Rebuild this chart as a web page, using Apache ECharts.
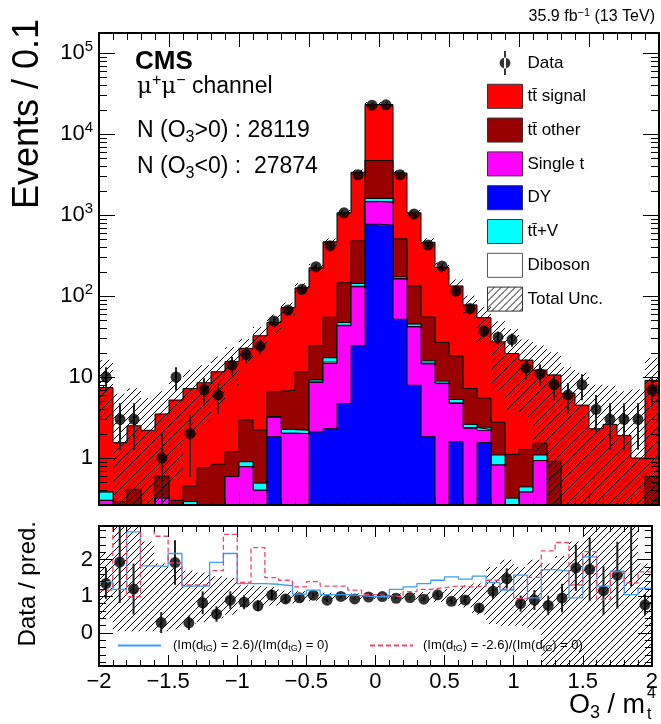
<!DOCTYPE html>
<html>
<head>
<meta charset="utf-8">
<title>O3 / mt4, mumu channel</title>
<script src="https://cdn.jsdelivr.net/npm/echarts@6/dist/echarts.min.js"></script>
<style>
html, body { margin: 0; padding: 0; background: #fff; }
#chart { width: 661px; height: 724px; }
</style>
</head>
<body>
<div id="chart"></div>
<script>
var chart = echarts.init(document.getElementById('chart'));

var FONT = '"Liberation Sans", Arial, Helvetica, sans-serif';
var SIGNAL = 'tt\u0304 signal', OTHER = 'tt\u0304 other', TTV = 'tt\u0304+V';

// bin edges, 0.1 wide
var binEdges = [-2.0, -1.9, -1.8, -1.7, -1.6, -1.5, -1.4, -1.3, -1.2, -1.1,
  -1.0, -0.9, -0.8, -0.7, -0.6, -0.5, -0.4, -0.3, -0.2, -0.1,
  0.0, 0.1, 0.2, 0.3, 0.4, 0.5, 0.6, 0.7, 0.8, 0.9,
  1.0, 1.1, 1.2, 1.3, 1.4, 1.5, 1.6, 1.7, 1.8, 1.9, 2.0];

var dataCounts = [10, 3, 3, 0, 1, 10, 2, 7, 6, 14,
  19, 24, 49, 67, 121, 230, 418, 1064, 3130, 22696,
  22952, 3130, 1030, 425, 234, 115, 70, 37, 31, 29,
  13, 11, 8, 6, 8, 4, 3, 3, 3, 7];

// stack, bottom to top
var dyEvents = [0, 0, 0, 0, 0, 0, 0, 0, 0, 0,
  0, 0, 1.83, 0, 0, 2.1, 2.3, 4.7, 24.3, 770,
  750, 51.6, 7.9, 1.83, 0, 1.59, 0, 1.55, 0, 0,
  0, 0, 0, 0, 0, 0, 0, 0, 0, 0];
var singleTop = [0.30, 0, 0, 0, 0.32, 0, 0, 0, 0, 0.59,
  0.78, 0.40, 1.35, 2.02, 2.0, 6.5, 12.4, 38.3, 105.7, 690,
  690, 110.4, 33.7, 12.7, 8.3, 3.11, 2.33, 0.65, 0.82, 0,
  0.38, 0.93, 0, 0, 0, 0, 0, 0, 0, 0];
var diboson = [0, 0, 0, 0, 0, 0, 0, 0, 0, 0,
  0, 0, 0, 0, 0, 0.1, 0.6, 0.5, 2, 10,
  10, 2, 0.5, 0.3, 0.1, 0.1, 0.05, 0.05, 0, 0,
  0, 0, 0, 0, 0, 0, 0, 0, 0, 0];
var ttV = [0.08, 0, 0, 0, 0, 0, 0.29, 0, 0, 0,
  0.12, 0.09, 0.07, 0.24, 0.2, 0.5, 2.0, 3.5, 11, 130,
  150, 8, 2.9, 1.0, 0.5, 0.5, 0.22, 0.15, 0.27, 0.32,
  0.06, 0.16, 0, 0, 0, 0, 0, 0, 0, 0];
var ttOther = [0, 0.29, 0.41, 0, 0.28, 0.30, 0.16, 0.76, 0.84, 0.61,
  2.05, 1.72, 3.35, 4.64, 9.4, 15.1, 37.3, 99, 336, 3100,
  3100, 336, 88, 39.2, 17.9, 12.9, 4.6, 3.1, 1.67, 0.79,
  0.84, 0.43, 0.91, 0, 0, 0, 0, 0, 0, 0.59];
var ttSignal = [7.02, 1.26, 2.09, 2.2, 2.9, 4.9, 6.75, 7.74, 10.76, 14.4,
  19.65, 30.1, 40.7, 65.1, 114.4, 198.7, 412, 920, 2891, 18400,
  18400, 2792, 933, 405, 198, 115, 70.5, 48.5, 24.4, 18.4,
  14.9, 10.7, 9.7, 6.3, 4.5, 2.3, 2.6, 1.9, 1.0, 8.5];

// relative total uncertainty (up / down)
var uncUp = [1.2, 3.0, 1.9, 1.5, 0.9, 0.8, 0.7, 0.65, 0.55, 0.5,
  0.3, 0.28, 0.25, 0.15, 0.14, 0.12, 0.1, 0.09, 0.08, 0.07,
  0.07, 0.08, 0.09, 0.12, 0.15, 0.2, 0.3, 0.35, 0.8, 1.0,
  0.8, 1.0, 0.9, 1.1, 1.5, 2.5, 2.0, 2.5, 6.0, 0.9];
var uncDown = [0.6, 0.95, 0.95, 0.95, 0.95, 0.9, 0.75, 0.7, 0.6, 0.5,
  0.3, 0.28, 0.25, 0.2, 0.18, 0.12, 0.1, 0.09, 0.08, 0.07,
  0.07, 0.08, 0.09, 0.12, 0.15, 0.2, 0.3, 0.5, 0.75, 0.8,
  0.8, 0.9, 1.9, 1.9, 1.9, 1.9, 1.9, 1.9, 1.9, 1.9];

// (Im(dtG) = +-2.6) / (Im(dtG) = 0)
var ratioPlus = [1.40, 1.19, 2.76, 1.83, 1.82, 2.17, 1.28, 1.28, 1.93, 2.17,
  1.35, 1.35, 1.33, 1.29, 1.06, 1.17, 1.05, 1.05, 1.02, 0.99,
  0.99, 1.19, 1.26, 1.35, 1.44, 1.53, 1.47, 1.55, 1.38, 1.17,
  1.58, 0.96, 1.73, 1.69, 0.96, 2.08, 1.28, 1.69, 1.05, 1.22];
var ratioMinus = [1.17, 3.3, 0.99, 3.3, 2.64, 1.91, 1.31, 1.31, 1.70, 2.69,
  1.38, 2.33, 1.51, 1.44, 1.26, 1.40, 1.28, 1.28, 1.17, 1.05,
  1.02, 0.99, 1.13, 1.19, 1.24, 1.28, 1.26, 1.28, 1.44, 1.19,
  0.94, 1.52, 2.24, 2.47, 1.31, 2.22, 0.92, 1.67, 1.37, 1.67];

var Y_MIN = 0.263, Y_MAX = 176600;
var R_MIN = -0.9, R_MAX = 2.92;

// cumulative stack tops
var layers = [dyEvents, singleTop, diboson, ttV, ttOther, ttSignal];
var cum = [];
var run = dataCounts.map(function () { return 0; });
layers.forEach(function (arr) {
  run = run.map(function (v, i) { return v + arr[i]; });
  cum.push(run.slice());
});
var total = cum[5];

// diagonal hatch
function makeHatch() {
  var c = document.createElement('canvas');
  c.width = 7; c.height = 7;
  var ctx = c.getContext('2d');
  ctx.strokeStyle = '#000';
  ctx.lineWidth = 1;
  ctx.beginPath();
  ctx.moveTo(0, 7); ctx.lineTo(7, 0);
  ctx.moveTo(-1, 1); ctx.lineTo(1, -1);
  ctx.moveTo(6, 8); ctx.lineTo(8, 6);
  ctx.stroke();
  return c;
}
var hatchFill = { image: makeHatch(), repeat: 'repeat' };

function fillSeries(name, color, tops, z) {
  return {
    type: 'custom', name: name, xAxisIndex: 0, yAxisIndex: 0, z: z, clip: true, silent: true,
    itemStyle: { color: color },
    data: tops.map(function (v, i) { return [binEdges[i], binEdges[i + 1], v]; }),
    renderItem: function (params, api) {
      var top = api.value(2);
      if (!(top > Y_MIN)) return null;
      var cs = params.coordSys;
      var a = api.coord([api.value(0), top]);
      var b = api.coord([api.value(1), top]);
      var y = Math.max(a[1], cs.y);
      return { type: 'rect', shape: { x: a[0], y: y, width: b[0] - a[0], height: cs.y + cs.height - y }, style: { fill: color } };
    }
  };
}

function stepLine(name, vals, xi, yi, z, style) {
  var pts = vals.map(function (v, i) { return [binEdges[i], v > 0 ? v : 1e-3]; });
  pts.push([binEdges[40], pts[39][1]]);
  return {
    type: 'line', name: name, step: 'end', data: pts, xAxisIndex: xi, yAxisIndex: yi, z: z,
    symbol: 'none', silent: true, clip: true, lineStyle: style, itemStyle: { color: style.color }
  };
}

function bandSeries(name, lows, highs, xi, yi, floor) {
  return {
    type: 'custom', name: name, xAxisIndex: xi, yAxisIndex: yi, z: 20, clip: true, silent: true,
    itemStyle: { color: hatchFill },
    data: lows.map(function (v, i) { return [binEdges[i], binEdges[i + 1], v, highs[i]]; }),
    renderItem: function (params, api) {
      var lo = Math.max(api.value(2), floor);
      var a = api.coord([api.value(0), api.value(3)]);
      var b = api.coord([api.value(1), lo]);
      return { type: 'rect', shape: { x: a[0], y: a[1], width: b[0] - a[0], height: b[1] - a[1] }, style: { fill: hatchFill } };
    }
  };
}

function errorSeries(vals, errs, xi, yi, floor) {
  var d = [];
  vals.forEach(function (v, i) {
    if (v > 0) d.push([(binEdges[i] + binEdges[i + 1]) / 2, v - errs[i], v + errs[i]]);
  });
  return {
    type: 'custom', xAxisIndex: xi, yAxisIndex: yi, z: 21, clip: true, silent: true,
    data: d,
    renderItem: function (params, api) {
      var lo = Math.max(api.value(1), floor);
      var a = api.coord([api.value(0), api.value(2)]);
      var b = api.coord([api.value(0), lo]);
      return { type: 'line', shape: { x1: a[0], y1: a[1], x2: b[0], y2: b[1] }, style: { stroke: '#222', lineWidth: 2 } };
    }
  };
}

function pointSeries(name, vals, xi, yi) {
  var d = [];
  vals.forEach(function (v, i) {
    if (v > 0) d.push([(binEdges[i] + binEdges[i + 1]) / 2, v]);
  });
  return {
    type: 'scatter', name: name, xAxisIndex: xi, yAxisIndex: yi, z: 22, clip: true, silent: true,
    symbol: 'circle', symbolSize: 11, itemStyle: { color: '#000' }, data: d
  };
}

var ratioVals = dataCounts.map(function (n, i) { return n / total[i]; });
var ratioErrs = dataCounts.map(function (n, i) { return Math.sqrt(n) / total[i]; });
var dataErrs = dataCounts.map(function (n) { return Math.sqrt(n); });

var logMinorTicks = [];
[0.1, 1, 10, 100, 1000, 10000, 100000].forEach(function (dec) {
  for (var m = 2; m <= 9; m++) {
    if (m * dec > Y_MIN && m * dec < Y_MAX) logMinorTicks.push(m * dec);
  }
});
var ratioMinor = [-0.8, -0.6, -0.4, -0.2, 0.2, 0.4, 0.6, 0.8, 1.2, 1.4, 1.6, 1.8, 2.2, 2.4, 2.6, 2.8];

var series = [];
var stackNames = [SIGNAL, OTHER, TTV, 'Diboson', 'Single t', 'DY'];
var stackColors = ['#ff0000', '#990000', '#00ffff', '#ffffff', '#ff00ff', '#0000ff'];
var stackTops = [cum[5], cum[4], cum[3], cum[2], cum[1], cum[0]];
stackNames.forEach(function (nm, k) {
  series.push(fillSeries(nm, stackColors[k], stackTops[k], 2 + 2 * k));
  series.push(stepLine('outline' + k, stackTops[k], 0, 0, 3 + 2 * k, { color: '#000', width: 1 }));
});
series.push(bandSeries('Total Unc.',
  total.map(function (t, i) { return t * (1 - uncDown[i]); }),
  total.map(function (t, i) { return t * (1 + uncUp[i]); }), 0, 0, Y_MIN));
series.push(errorSeries(dataCounts, dataErrs, 0, 0, Y_MIN));
series.push(pointSeries('Data', dataCounts, 0, 0));

// log minor ticks on both sides
series.push({
  type: 'custom', xAxisIndex: 0, yAxisIndex: 0, z: 40, silent: true,
  data: logMinorTicks.map(function (v) { return [-2, v]; }),
  renderItem: function (params, api) {
    var cs = params.coordSys;
    var y = Math.round(api.coord([-2, api.value(1)])[1]) + 0.5;
    return { type: 'group', children: [
      { type: 'line', shape: { x1: cs.x, y1: y, x2: cs.x + 8, y2: y }, style: { stroke: '#000', lineWidth: 1 } },
      { type: 'line', shape: { x1: cs.x + cs.width - 8, y1: y, x2: cs.x + cs.width, y2: y }, style: { stroke: '#000', lineWidth: 1 } }
    ] };
  }
});

// ratio panel
series.push(bandSeries('ratioUnc',
  uncDown.map(function (u) { return 1 - u; }),
  uncUp.map(function (u) { return 1 + u; }), 2, 2, -5));
series.push(stepLine('Im(dtG) = 2.6', ratioPlus, 2, 2, 23, { color: '#3d9df2', width: 1.3 }));
series.push(stepLine('Im(dtG) = -2.6', ratioMinus, 2, 2, 23, { color: '#f0446a', width: 1.3, type: [5, 3] }));
series.push(errorSeries(ratioVals, ratioErrs, 2, 2, -5));
series.push(pointSeries('ratio', ratioVals, 2, 2));

function fmtX(v) { return (v < 0 ? '\u2212' : '') + Math.abs(v); }

function xAxisDef(grid, pos, labels, major, minor) {
  return {
    type: 'value', gridIndex: grid, position: pos, min: -2, max: 2, interval: 0.5, z: 30,
    axisLine: { show: true, onZero: false, lineStyle: { color: '#000', width: 2 } },
    axisTick: { show: true, inside: true, length: major, lineStyle: { color: '#000', width: 1 } },
    minorTick: { show: true, splitNumber: 5, length: minor, lineStyle: { color: '#000', width: 1 } },
    splitLine: { show: false },
    axisLabel: { show: labels, margin: 5, fontSize: 22, fontFamily: FONT, color: '#000', formatter: fmtX }
  };
}

function logAxisDef(pos, labels) {
  return {
    type: 'log', logBase: 10, gridIndex: 0, position: pos, min: Y_MIN, max: Y_MAX, z: 30,
    axisLine: { show: true, onZero: false, lineStyle: { color: '#000', width: 2 } },
    axisTick: { show: true, inside: true, length: 16, lineStyle: { color: '#000', width: 1 } },
    splitLine: { show: false },
    axisLabel: {
      show: labels, showMinLabel: false, showMaxLabel: false, margin: 6, fontSize: 22, fontFamily: FONT, color: '#000',
      formatter: function (v) {
        if (v < 0.5 || v > 2e5) return '';
        if (v >= 100) return '10{sup|' + Math.round(Math.log10(v)) + '}';
        return String(Math.round(v));
      },
      rich: { sup: { fontSize: 15, fontFamily: FONT, padding: [0, 0, 12, 0] } }
    }
  };
}

function ratioAxisDef(pos, ticks, len, labels) {
  return {
    type: 'value', gridIndex: 1, position: pos, min: R_MIN, max: R_MAX, z: 30,
    axisLine: { show: true, onZero: false, lineStyle: { color: '#000', width: 2 } },
    axisTick: { show: true, inside: true, length: len, customValues: ticks, lineStyle: { color: '#000', width: 1 } },
    splitLine: { show: false },
    axisLabel: { show: labels, customValues: ticks, margin: 6, fontSize: 22, fontFamily: FONT, color: '#000' }
  };
}

var subRich = function (base, sub, drop) {
  return {
    sub: { fontSize: sub, fontFamily: FONT, padding: [drop, 0, 0, 0] },
    sup: { fontSize: sub, fontFamily: FONT, padding: [0, 0, drop, 0] },
    mu: { fontSize: base, fontFamily: '"DejaVu Serif", "Liberation Serif", serif' }
  };
};

function textEl(x, y, text, size, align, extra) {
  var st = {
    text: text, fontSize: size, fontFamily: FONT, fill: '#000',
    textAlign: align, textVerticalAlign: 'middle', rich: subRich(size, Math.round(size * 0.68), Math.round(size * 0.55))
  };
  if (extra) Object.keys(extra).forEach(function (k) { st[k] = extra[k]; });
  return { type: 'text', x: x, y: y, z: 50, style: st };
}

var ratioLegendRich = {
  s: { fontSize: 9, fontFamily: FONT, padding: [7, 0, 0, 0] }
};

var option = {
  animation: false,
  backgroundColor: '#fff',
  grid: [
    { left: 99, right: 2, top: 33, height: 472 },
    { left: 99, right: 2, top: 526, height: 140 }
  ],
  xAxis: [
    xAxisDef(0, 'bottom', false, 14, 7),
    xAxisDef(0, 'top', false, 14, 7),
    xAxisDef(1, 'bottom', true, 11, 6),
    xAxisDef(1, 'top', false, 11, 6)
  ],
  yAxis: [
    logAxisDef('left', true),
    logAxisDef('right', false),
    ratioAxisDef('left', [0, 1, 2], 14, true),
    ratioAxisDef('left', ratioMinor, 7, false),
    ratioAxisDef('right', [0, 1, 2], 14, false),
    ratioAxisDef('right', ratioMinor, 7, false)
  ],
  legend: [{
    orient: 'vertical', left: 487, top: 51, padding: 0, itemWidth: 35, itemHeight: 24, itemGap: 8.8,
    selectedMode: false,
    textStyle: { fontFamily: FONT, fontSize: 17, color: '#000' },
    data: [
      { name: 'Data', icon: 'path://M4.1,0 H5.9 V22 H4.1 Z M0,11 A5,5 0 1 0 10,11 A5,5 0 1 0 0,11 Z', itemStyle: { color: '#000', borderWidth: 0 } },
      { name: SIGNAL, icon: 'rect', itemStyle: { color: '#ff0000', borderColor: '#333', borderWidth: 1 } },
      { name: OTHER, icon: 'rect', itemStyle: { color: '#990000', borderColor: '#333', borderWidth: 1 } },
      { name: 'Single t', icon: 'rect', itemStyle: { color: '#ff00ff', borderColor: '#333', borderWidth: 1 } },
      { name: 'DY', icon: 'rect', itemStyle: { color: '#0000ff', borderColor: '#333', borderWidth: 1 } },
      { name: TTV, icon: 'rect', itemStyle: { color: '#00ffff', borderColor: '#333', borderWidth: 1 } },
      { name: 'Diboson', icon: 'rect', itemStyle: { color: '#ffffff', borderColor: '#555', borderWidth: 1 } },
      { name: 'Total Unc.', icon: 'rect', itemStyle: { color: hatchFill, borderColor: '#333', borderWidth: 1 } }
    ]
  }, {
    left: 117, top: 639, padding: 0, itemWidth: 43, itemHeight: 14, selectedMode: false,
    itemStyle: { opacity: 0 },
    data: ['Im(dtG) = 2.6'],
    formatter: function () { return '(Im(d{s|tG}) = 2.6)/(Im(d{s|tG}) = 0)'; },
    textStyle: { fontFamily: FONT, fontSize: 13, color: '#000', padding: [0, 0, 0, 7], rich: ratioLegendRich }
  }, {
    left: 369, top: 639, padding: 0, itemWidth: 43, itemHeight: 14, selectedMode: false,
    itemStyle: { opacity: 0 },
    data: ['Im(dtG) = -2.6'],
    formatter: function () { return '(Im(d{s|tG}) = -2.6)/(Im(d{s|tG}) = 0)'; },
    textStyle: { fontFamily: FONT, fontSize: 13, color: '#000', padding: [0, 0, 0, 5], rich: ratioLegendRich }
  }],
  graphic: [
    textEl(655, 17, '35.9 fb{sup|\u22121} (13 TeV)', 16, 'right'),
    textEl(135, 62, 'CMS', 26, 'left', { fontWeight: 'bold' }),
    textEl(137, 87, '{mu|\u03bc}{sup|+}{mu|\u03bc}{sup|\u2212} channel', 23, 'left'),
    textEl(137, 131, 'N (O{sub|3}>0) : 28119', 23, 'left'),
    textEl(137, 167, 'N (O{sub|3}<0) :  27874', 23, 'left'),
    { type: 'text', x: 28, y: 19, rotation: Math.PI / 2, z: 50,
      style: { text: 'Events / 0.1', fontSize: 36, fontFamily: FONT, fill: '#000', textAlign: 'right', textVerticalAlign: 'middle' } },
    { type: 'text', x: 28, y: 521, rotation: Math.PI / 2, z: 50,
      style: { text: 'Data / pred.', fontSize: 24, fontFamily: FONT, fill: '#000', textAlign: 'right', textVerticalAlign: 'middle' } },
    textEl(645, 706, 'O{sub|3} / m', 27, 'right'),
    textEl(647, 715, 't', 16, 'left'),
    textEl(647, 694, '4', 16, 'left')
  ],
  series: series
};

chart.setOption(option);
</script>
</body>
</html>
